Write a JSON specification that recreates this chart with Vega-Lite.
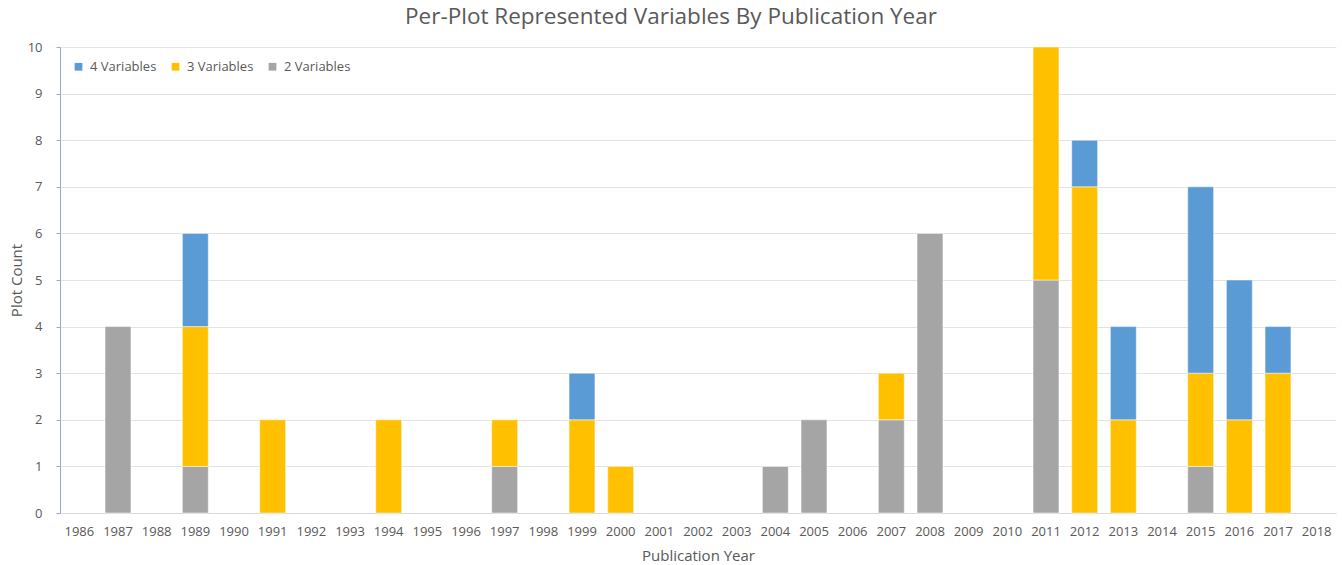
{
  "$schema": "https://vega.github.io/schema/vega-lite/v6.json",
  "autosize": {"type": "none"},
  "width": 1276,
  "height": 466,
  "padding": {"left": 60, "top": 47, "right": 6, "bottom": 52},
  "background": "white",
  "title": {
    "text": "Per-Plot Represented Variables By Publication Year",
    "font": "Open Sans",
    "fontSize": 22.5,
    "fontWeight": "normal",
    "color": "#595959",
    "anchor": "middle",
    "dx": -27,
    "offset": 13
  },
  "data": {
    "values": [
      {"year": "1987", "series": "2 Variables", "n": 2, "count": 4},
      {"year": "1989", "series": "2 Variables", "n": 2, "count": 1},
      {"year": "1989", "series": "3 Variables", "n": 3, "count": 3},
      {"year": "1989", "series": "4 Variables", "n": 4, "count": 2},
      {"year": "1991", "series": "3 Variables", "n": 3, "count": 2},
      {"year": "1994", "series": "3 Variables", "n": 3, "count": 2},
      {"year": "1997", "series": "2 Variables", "n": 2, "count": 1},
      {"year": "1997", "series": "3 Variables", "n": 3, "count": 1},
      {"year": "1999", "series": "3 Variables", "n": 3, "count": 2},
      {"year": "1999", "series": "4 Variables", "n": 4, "count": 1},
      {"year": "2000", "series": "3 Variables", "n": 3, "count": 1},
      {"year": "2004", "series": "2 Variables", "n": 2, "count": 1},
      {"year": "2005", "series": "2 Variables", "n": 2, "count": 2},
      {"year": "2007", "series": "2 Variables", "n": 2, "count": 2},
      {"year": "2007", "series": "3 Variables", "n": 3, "count": 1},
      {"year": "2008", "series": "2 Variables", "n": 2, "count": 6},
      {"year": "2011", "series": "2 Variables", "n": 2, "count": 5},
      {"year": "2011", "series": "3 Variables", "n": 3, "count": 5},
      {"year": "2012", "series": "3 Variables", "n": 3, "count": 7},
      {"year": "2012", "series": "4 Variables", "n": 4, "count": 1},
      {"year": "2013", "series": "3 Variables", "n": 3, "count": 2},
      {"year": "2013", "series": "4 Variables", "n": 4, "count": 2},
      {"year": "2015", "series": "2 Variables", "n": 2, "count": 1},
      {"year": "2015", "series": "3 Variables", "n": 3, "count": 2},
      {"year": "2015", "series": "4 Variables", "n": 4, "count": 4},
      {"year": "2016", "series": "3 Variables", "n": 3, "count": 2},
      {"year": "2016", "series": "4 Variables", "n": 4, "count": 3},
      {"year": "2017", "series": "3 Variables", "n": 3, "count": 3},
      {"year": "2017", "series": "4 Variables", "n": 4, "count": 1}
    ]
  },
  "mark": {"type": "bar", "stroke": "white", "strokeWidth": 0.5},
  "encoding": {
    "x": {
      "field": "year",
      "type": "ordinal",
      "scale": {
        "domain": ["1986","1987","1988","1989","1990","1991","1992","1993","1994","1995","1996","1997","1998","1999","2000","2001","2002","2003","2004","2005","2006","2007","2008","2009","2010","2011","2012","2013","2014","2015","2016","2017","2018"],
        "paddingInner": 0.33,
        "paddingOuter": 0.165
      },
      "axis": {
        "title": "Publication Year",
        "titleFont": "Open Sans",
        "titleFontSize": 15,
        "titleFontWeight": "normal",
        "titleColor": "#595959",
        "titlePadding": 10,
        "labelFont": "Open Sans",
        "labelFontSize": 13,
        "labelColor": "#595959",
        "labelAngle": 0,
        "labelPadding": 12,
        "ticks": false,
        "domainColor": "#D9D9D9",
        "domainWidth": 1
      }
    },
    "y": {
      "field": "count",
      "type": "quantitative",
      "aggregate": "sum",
      "stack": "zero",
      "scale": {"domain": [0, 10], "nice": false},
      "axis": {
        "title": "Plot Count",
        "titleFont": "Open Sans",
        "titleFontSize": 15,
        "titleFontWeight": "normal",
        "titleColor": "#595959",
        "titlePadding": 3,
        "labelFont": "Open Sans",
        "labelFontSize": 13,
        "labelColor": "#595959",
        "labelPadding": 14,
        "values": [0,1,2,3,4,5,6,7,8,9,10],
        "tickColor": "#8FAADC",
        "tickSize": 4,
        "domainColor": "#8FAADC",
        "gridColor": "#E3E3E3",
        "grid": true
      }
    },
    "color": {
      "field": "series",
      "type": "nominal",
      "scale": {
        "domain": ["4 Variables", "3 Variables", "2 Variables"],
        "range": ["#5B9BD5", "#FFC000", "#A5A5A5"]
      },
      "legend": {
        "title": null,
        "orient": "none",
        "legendX": 12,
        "legendY": 13,
        "direction": "horizontal",
        "symbolType": "square",
        "symbolSize": 60,
        "symbolStrokeWidth": 0,
        "labelFont": "Open Sans",
        "labelFontSize": 13,
        "labelColor": "#595959",
        "labelOffset": 5,
        "columnPadding": 12
      }
    },
    "order": {"field": "n", "type": "quantitative", "sort": "ascending"}
  },
  "config": {
    "view": {"stroke": null},
    "axis": {"gridWidth": 1}
  }
}
